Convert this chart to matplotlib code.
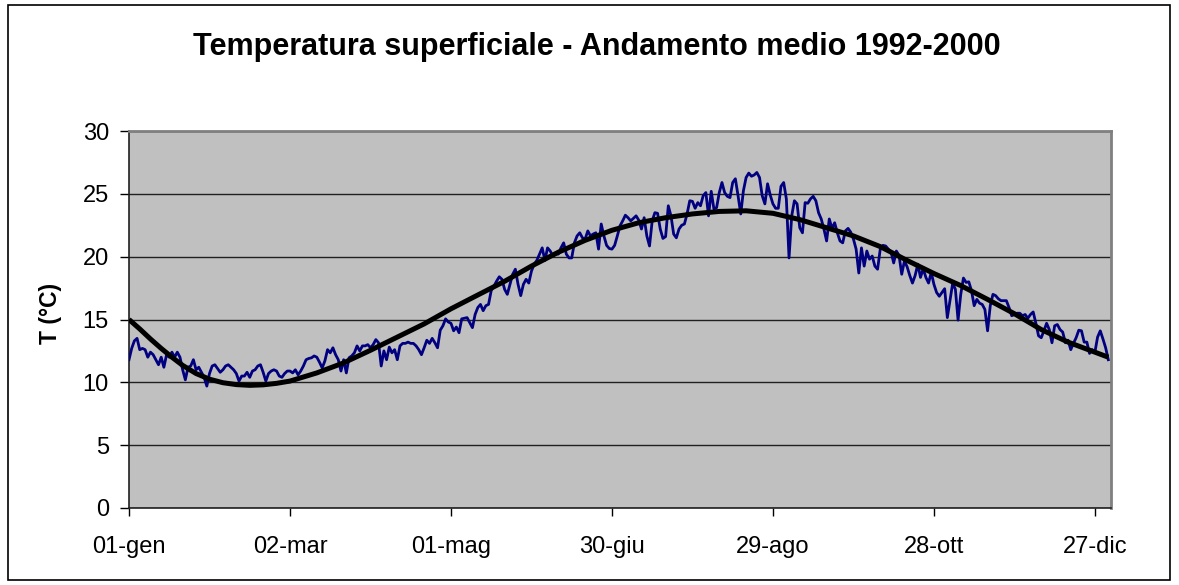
#!/usr/bin/env python3

import numpy as np
import matplotlib
matplotlib.use("Agg")
import matplotlib.pyplot as plt
from matplotlib.patches import Rectangle

plt.rcParams['font.family'] = ['Liberation Sans', 'DejaVu Sans']

# daily mean surface temperature (°C), day 0 = 01-gen
temp_daily = [
    # gen - feb
    11.8, 12.7, 13.3, 13.5, 12.6, 12.7, 12.6, 12.0, 12.4, 12.2,
    11.8, 11.4, 12.0, 11.2, 12.2, 12.0, 12.4, 12.0, 12.4, 12.0,
    11.0, 10.2, 11.2, 11.3, 11.8, 11.0, 11.2, 10.8, 10.4, 9.7,
    10.7, 11.3, 11.4, 11.1, 10.8, 11.0, 11.3, 11.4, 11.2, 11.0,
    10.7, 10.1, 10.5, 10.5, 10.8, 10.4, 10.9, 11.0, 11.3, 11.4,
    10.8, 10.1, 10.7, 10.9, 11.0, 10.9, 10.5, 10.4, 10.7, 10.9,
    10.9,
    # mar - apr
    10.75, 11.0, 10.6, 10.9, 11.3, 11.8, 11.9, 11.95, 12.1, 12.0,
    11.6, 11.15, 11.7, 12.6, 12.35, 12.75, 12.2, 11.8, 10.9, 11.8,
    10.75, 11.95, 12.1, 12.35, 12.9, 12.5, 12.9, 12.9, 13.0, 12.75,
    13.0, 13.4, 13.15, 11.3, 12.5, 11.8, 12.8, 12.35, 12.6, 11.8,
    12.9, 13.1, 13.1, 13.2, 13.1, 13.1, 12.9, 12.6, 12.2, 12.75,
    13.35, 13.1, 13.5, 13.15, 12.75, 14.15, 14.5, 15.05, 14.8, 14.7,
    14.1, 14.4, 13.95, 15.05, 15.1,
    # mag - giu
    15.15, 14.75, 14.35, 15.4, 15.95, 16.2, 15.7, 16.1, 16.2, 17.3,
    17.65, 18.05, 18.4, 18.2, 17.4, 17.0, 17.8, 18.6, 19.0, 17.8,
    16.9, 17.8, 18.2, 17.9, 18.85, 19.4, 19.7, 20.2, 20.7, 19.7,
    20.7, 20.45, 20.05, 20.3, 20.2, 20.7, 21.1, 20.2, 19.9, 19.9,
    21.1, 21.65, 21.9, 21.5, 21.4, 22.05, 21.65, 21.8, 21.9, 20.6,
    22.6, 21.65, 20.9, 20.65, 20.6, 20.9, 21.65, 22.45, 22.85, 23.3,
    23.1, 22.85, 23.05,
    # lug - ago
    23.25, 22.9, 22.2, 23.1, 21.65, 20.85, 22.85, 23.5, 23.45, 22.2,
    21.45, 21.6, 24.05, 23.25, 21.8, 21.5, 22.2, 22.5, 22.6, 23.4,
    24.45, 24.4, 23.85, 24.3, 24.05, 24.85, 25.1, 23.25, 25.2, 23.8,
    23.9, 25.1, 25.9, 25.1, 24.8, 24.7, 25.9, 26.2, 24.85, 23.4,
    25.25, 26.3, 26.65, 26.4, 26.5, 26.7, 26.3, 24.85, 24.2, 25.8,
    24.9, 24.2, 23.85, 23.85, 25.6, 25.9, 24.6, 19.9, 23.25, 24.45,
    24.2, 22.3, 21.9,
    # set - ott
    24.3, 24.25, 24.6, 24.8, 24.45, 23.5, 23.0, 22.2, 21.25, 23.0,
    22.25, 22.7, 21.9, 21.25, 21.1, 22.05, 22.25, 21.95, 21.4, 20.6,
    18.7, 20.7, 19.25, 20.45, 19.8, 20.05, 19.25, 19.0, 20.6, 20.9,
    20.85, 20.6, 20.4, 19.5, 20.45, 20.1, 18.6, 19.65, 19.2, 18.5,
    17.9, 18.5, 19.4, 18.35, 19.05, 18.35, 17.9, 18.75, 17.8, 17.15,
    16.85, 17.15, 17.45, 15.15, 16.5, 17.9, 17.4, 14.95, 17.0, 18.3,
    # nov - dic
    17.95, 18.0, 17.3, 16.1, 16.6, 16.3, 16.2, 15.8, 14.1, 16.1,
    17.0, 16.9, 16.65, 16.5, 16.5, 16.5, 15.95, 15.3, 15.4, 15.5,
    15.5, 15.3, 15.4, 15.1, 15.4, 15.6, 14.7, 13.7, 13.55, 14.1,
    14.7, 14.2, 13.15, 14.5, 14.6, 14.2, 14.0, 13.15, 13.35, 12.6,
    13.1, 13.55, 14.15, 14.1, 13.2, 13.2, 12.3, 12.6, 12.4, 13.6,
    14.1, 13.45, 12.75, 11.8,
]
days = np.arange(len(temp_daily))

# smooth trend curve
trend_days = [0, 4, 8, 12, 16, 20, 25, 30, 35, 40, 45, 50, 55, 60, 70, 80,
              90, 100, 110, 120, 130, 140, 150, 160, 170, 180, 190, 200,
              210, 220, 230, 240, 250, 260, 270, 280, 290, 300, 310, 320,
              330, 340, 350, 360, 365]
trend_vals = [15.0, 14.25, 13.45, 12.7, 12.0, 11.35, 10.7, 10.25, 9.97,
              9.82, 9.76, 9.8, 9.92, 10.1, 10.75, 11.55, 12.55, 13.6, 14.65,
              15.85, 16.95, 18.04, 19.25, 20.35, 21.3, 22.1, 22.7, 23.1,
              23.4, 23.6, 23.65, 23.45, 22.95, 22.3, 21.65, 20.8, 19.7,
              18.66, 17.7, 16.6, 15.46, 14.2, 13.2, 12.4, 12.0]

tick_days = [0, 60, 120, 180, 240, 300, 360]
tick_labels = ['01-gen', '02-mar', '01-mag', '30-giu', '29-ago', '28-ott', '27-dic']
y_ticks = [0, 5, 10, 15, 20, 25, 30]

fig = plt.figure(figsize=(11.79, 5.85), dpi=100)
ax = fig.add_axes([129/1179, 1 - 508/585, 982/1179, 377/585])
ax.set_facecolor('#C0C0C0')

ax.plot(days, temp_daily, color='#000080', lw=2.0, zorder=3)
ax.plot(trend_days, trend_vals, color='black', lw=3.6, zorder=4,
        solid_capstyle='butt', solid_joinstyle='round')

ax.set_xlim(0, 366)
ax.set_ylim(0, 30)
ax.set_yticks(y_ticks)
ax.set_xticks(tick_days)
ax.set_xticklabels(tick_labels)
ax.yaxis.grid(True, color='#202020', lw=1.0)
ax.set_axisbelow(True)

ax.tick_params(axis='x', direction='out', length=6, width=1, pad=14,
               labelsize=17, color='black')
ax.tick_params(axis='y', direction='out', length=6.5, width=1, pad=8,
               labelsize=17, color='black')

for s in ('left', 'bottom'):
    ax.spines[s].set_color('#202020')
    ax.spines[s].set_linewidth(1.2)
for s in ('top', 'right'):
    ax.spines[s].set_color('#808080')
    ax.spines[s].set_linewidth(2.0)

ax.set_ylabel('T (°C)', fontsize=16.5, fontweight='bold')
ax.yaxis.set_label_coords(-67/982, 0.516)

fig.text(0.506, 1 - 47/585, 'Temperatura superficiale - Andamento medio 1992-2000',
         ha='center', va='center', fontsize=22, fontweight='bold')

# outer chart border
fig.patches.append(Rectangle((8/1179, 5/585), 1162/1179, 575/585,
                             transform=fig.transFigure, fill=False,
                             edgecolor='black', lw=1.2))

fig.savefig('out.png', dpi=100)
